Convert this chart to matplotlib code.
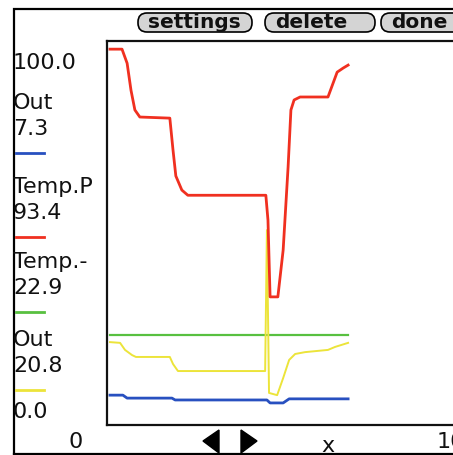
import matplotlib
matplotlib.use("Agg")
import matplotlib.pyplot as plt
from matplotlib.patches import FancyBboxPatch

# sample index (0..100 across the full plot width)
temp_p_x = [0.85, 4.25, 5.7, 6.8, 7.9, 9.3, 17.8, 18.7, 19.5, 21.2, 22.9, 45.0,
            45.6, 46.2, 48.4, 49.9, 51.3, 52.1, 53.0, 54.7, 62.6, 65.2, 66.9, 68.3]
temp_p_y = [100.0, 100.0, 96.2, 88.9, 83.6, 81.7, 81.4, 72.8, 65.8, 62.0, 60.6, 60.6,
            53.9, 33.2, 33.2, 45.8, 68.2, 83.6, 86.3, 87.1, 87.1, 93.8, 94.9, 95.7]

temp_m_x = [0.85, 68.3]
temp_m_y = [22.9, 22.9]

out2_x = [0.85, 3.7, 5.1, 7.1, 8.2, 17.8, 18.7, 20.1, 44.8, 45.3, 45.9, 48.2,
          49.9, 51.6, 53.3, 56.1, 62.6, 64.6, 68.3]
out2_y = [21.0, 20.8, 18.9, 17.5, 17.0, 17.0, 15.1, 13.2, 13.2, 51.2, 7.3, 6.7,
          11.3, 16.2, 17.8, 18.3, 18.9, 19.7, 20.8]

out1_x = [0.85, 4.5, 5.7, 18.4, 19.3, 45.3, 46.2, 49.9, 51.6, 68.3]
out1_y = [6.7, 6.7, 5.9, 5.9, 5.4, 5.4, 4.6, 4.6, 5.7, 5.7]

legend_names = ["Out", "Temp.P", "Temp.-", "Out"]
legend_values = ["7.3", "93.4", "22.9", "20.8"]
legend_colors = ["#2850c0", "#f03020", "#58c040", "#ece43a"]
buttons = ["settings", "delete", "done"]

W, H = 453, 455
fig = plt.figure(figsize=(W / 100, H / 100), dpi=100)

# background axes in pixel coordinates for the screen decorations
bg = fig.add_axes([0, 0, 1, 1])
bg.set_xlim(0, W)
bg.set_ylim(H, 0)
bg.axis("off")

# outer frame
bg.plot([14, 14, 460], [456, 9, 9], color="k", lw=1.6, solid_joinstyle="miter")
bg.plot([14, 460], [454, 454], color="k", lw=1.6)

# buttons
btn_boxes = [(138, 252), (265, 375), (381, 470)]
for label, (x0, x1) in zip(buttons, btn_boxes):
    pill = FancyBboxPatch((x0, 13), x1 - x0, 19,
                          boxstyle="round,pad=0,rounding_size=9",
                          facecolor="#d4d4d4", edgecolor="k", lw=1.2)
    bg.add_patch(pill)
    bg.text(x0 + 10, 22, label, ha="left", va="center",
            fontsize=14.5, fontweight="bold", color="#111111")

# legend column
font = dict(fontsize=16, color="#111111", ha="left", va="center")
bg.text(13, 63, "100.0", **font)
name_y = [103, 187, 262, 340]
for name, val, col, y in zip(legend_names, legend_values, legend_colors, name_y):
    bg.text(13, y, name, **font)
    bg.text(13, y + 26, val, **font)
    bg.plot([16, 44], [y + 50, y + 50], color=col, lw=2)
bg.text(13, 412, "0.0", **font)

# x axis texts
bg.text(76, 442, "0", **dict(font, ha="center"))
bg.text(437, 442, "10", **font)
bg.text(328, 446, "x", **dict(font, ha="center"))
bg.add_patch(plt.Polygon([[219, 430], [219, 453], [203, 441]], color="k"))
bg.add_patch(plt.Polygon([[241, 430], [241, 453], [257, 441]], color="k"))

# plot area (extends past the right edge like the screenshot)
left, right, top, bottom = 107, 460, 41, 425
ax = fig.add_axes([left / W, 1 - bottom / H, (right - left) / W, (bottom - top) / H])
ax.set_xlim(0, 100)
ax.set_ylim(-1.35, 102.2)
ax.set_xticks([])
ax.set_yticks([])
for side in ["left", "top", "bottom"]:
    ax.spines[side].set_linewidth(1.6)
    ax.spines[side].set_color("#111111")
ax.spines["right"].set_visible(False)

ax.plot(temp_m_x, temp_m_y, color=legend_colors[2], lw=1.6)
ax.plot(out2_x, out2_y, color=legend_colors[3], lw=1.4)
ax.plot(out1_x, out1_y, color=legend_colors[0], lw=2.0)
ax.plot(temp_p_x, temp_p_y, color=legend_colors[1], lw=2.0)

fig.savefig("out.png", dpi=100)
